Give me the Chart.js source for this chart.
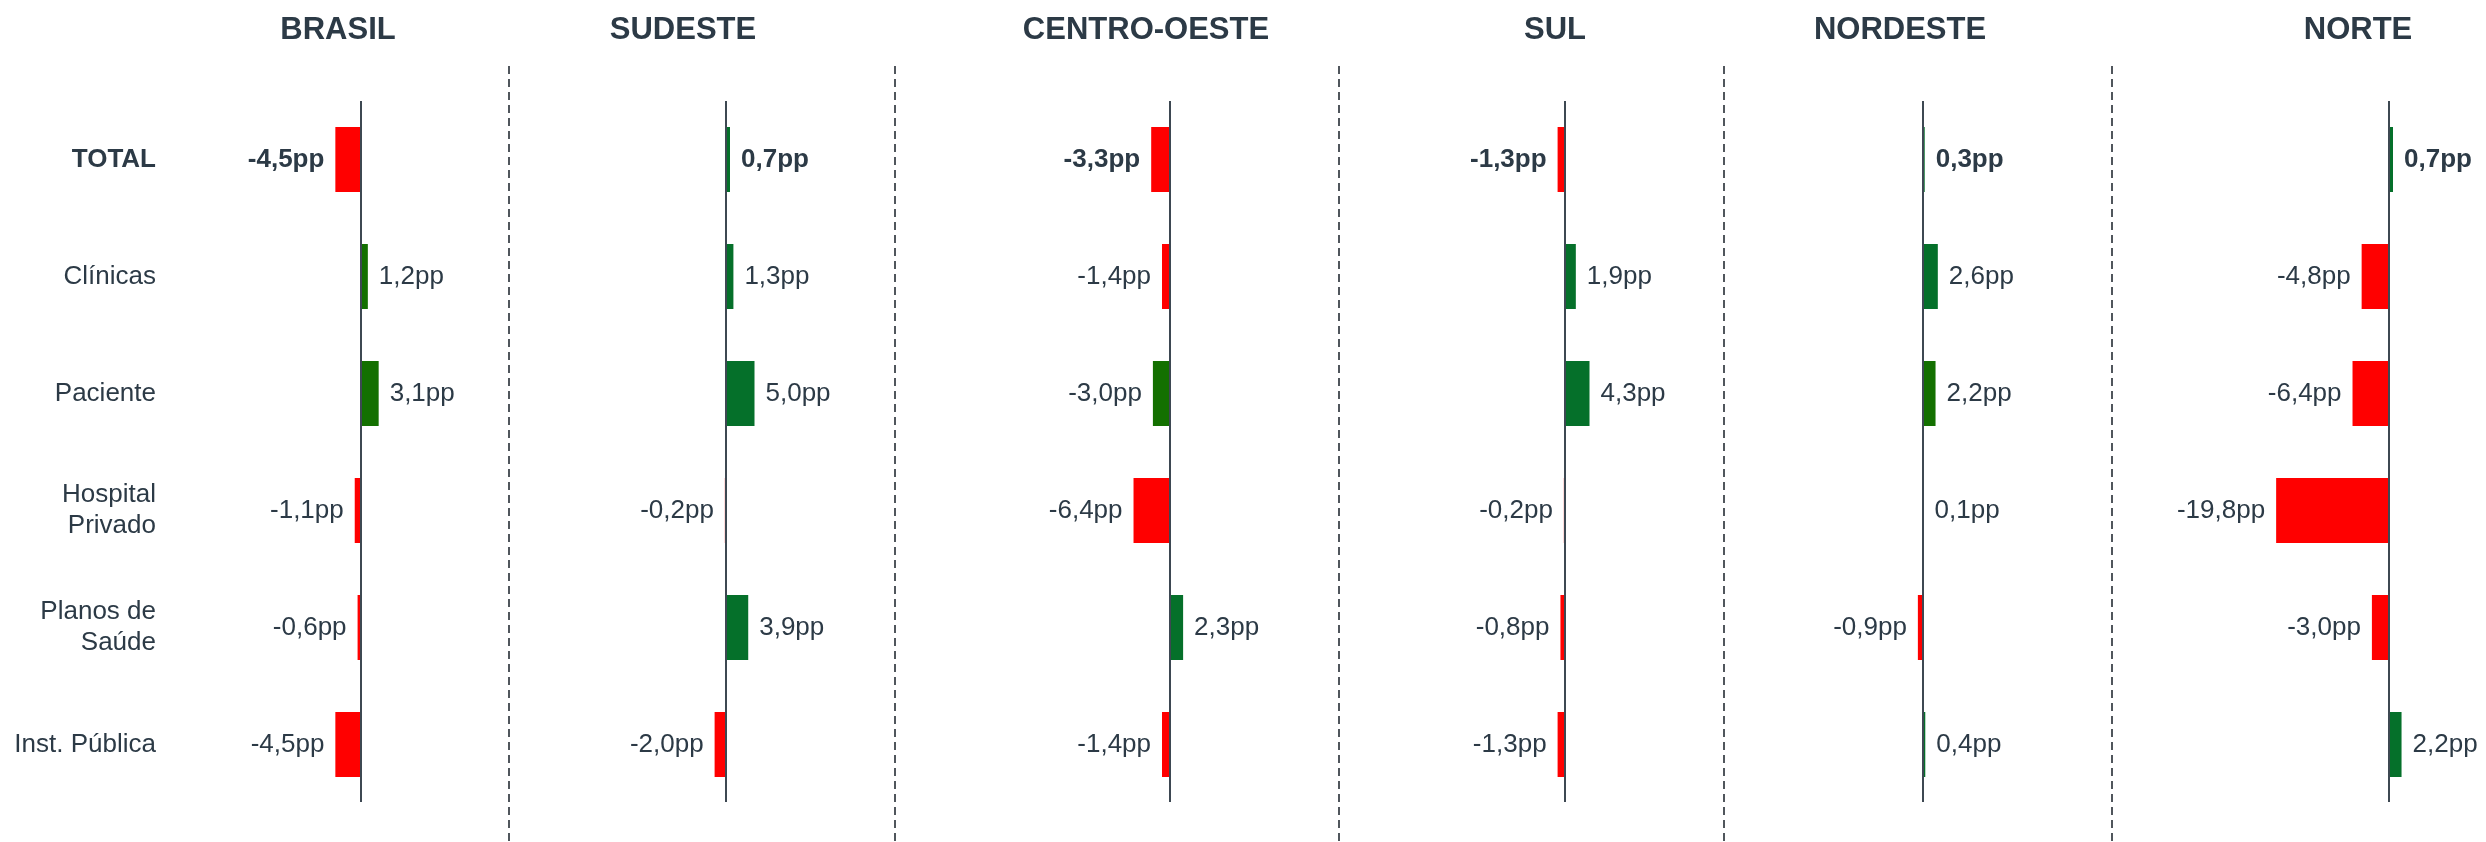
<!DOCTYPE html>
<html>
<head>
<meta charset="utf-8">
<script src="https://cdn.jsdelivr.net/npm/chart.js"></script>
<style>
  html, body { margin: 0; padding: 0; background: #fff; }
  #wrap { position: relative; width: 2486px; height: 842px; }
  .panel { position: absolute; top: 0; height: 842px; }
</style>
</head>
<body>
<div id="wrap"></div>
<script>
// categorias (linhas)
var categorias = ["TOTAL", "Clínicas", "Paciente", ["Hospital", "Privado"], ["Planos de", "Saúde"], "Inst. Pública"];

// regiões
var regioes = ["BRASIL", "SUDESTE", "CENTRO-OESTE", "SUL", "NORDESTE", "NORTE"];

// variação em pontos percentuais
var brasil      = [-4.5, 1.2, 3.1, -1.1, -0.6, -4.5];
var sudeste     = [0.7, 1.3, 5.0, -0.2, 3.9, -2.0];
var centroOeste = [-3.3, -1.4, -3.0, -6.4, 2.3, -1.4];
var sul         = [-1.3, 1.9, 4.3, -0.2, -0.8, -1.3];
var nordeste    = [0.3, 2.6, 2.2, 0.1, -0.9, 0.4];
var norte       = [0.7, -4.8, -6.4, -19.8, -3.0, 2.2];

var valores = [brasil, sudeste, centroOeste, sul, nordeste, norte];

// cores das barras: r = vermelho, g = verde, o = verde oliva
var coresBarras = [
  ["r", "o", "o", "r", "r", "r"],
  ["g", "g", "g", "r", "g", "r"],
  ["r", "r", "o", "r", "g", "r"],
  ["r", "g", "g", "r", "r", "r"],
  ["g", "g", "o", "g", "r", "g"],
  ["g", "r", "r", "r", "r", "g"]
];
var paleta = { r: "#ff0000", g: "#05702a", o: "#137000" };

var TEXTO = "#2c3a46";
var FONTE = "'Liberation Sans', Arial, sans-serif";
var PX_POR_PP = 5.7;

// posição de cada painel na página
var paineis = [
  { esq: 0,    dir: 510,  eixo: 361,  titulo: 338 },
  { esq: 510,  dir: 896,  eixo: 726,  titulo: 683 },
  { esq: 896,  dir: 1340, eixo: 1170, titulo: 1146 },
  { esq: 1340, dir: 1725, eixo: 1565, titulo: 1555 },
  { esq: 1725, dir: 2113, eixo: 1923, titulo: 1900 },
  { esq: 2113, dir: 2486, eixo: 2389, titulo: 2358 }
];
var LARG_ROTULOS = 170;

function fmt(v) {
  return v.toFixed(1).replace(".", ",") + "pp";
}

var extras = {
  id: "extras",
  afterDatasetsDraw: function (chart, args, opts) {
    var ctx = chart.ctx;
    var area = chart.chartArea;
    var x0 = chart.scales.x.getPixelForValue(0);
    ctx.save();

    // linha do zero
    ctx.strokeStyle = "#3d4852";
    ctx.lineWidth = 2;
    ctx.beginPath();
    ctx.moveTo(x0, area.top);
    ctx.lineTo(x0, area.bottom - 1);
    ctx.stroke();

    // rótulos de valor
    var dados = chart.data.datasets[0].data;
    chart.getDatasetMeta(0).data.forEach(function (bar, i) {
      var v = dados[i];
      ctx.font = (i === 0 ? "bold " : "") + "26px " + FONTE;
      ctx.fillStyle = TEXTO;
      ctx.textBaseline = "middle";
      if (v >= 0) {
        ctx.textAlign = "left";
        ctx.fillText(fmt(v), Math.max(bar.x, bar.base) + 11, bar.y);
      } else {
        ctx.textAlign = "right";
        ctx.fillText(fmt(v), Math.min(bar.x, bar.base) - 11, bar.y);
      }
    });

    // título da região
    ctx.font = "bold 31px " + FONTE;
    ctx.textAlign = "center";
    ctx.textBaseline = "alphabetic";
    ctx.fillText(opts.titulo, opts.tituloX, 39);

    // separador tracejado
    if (opts.separador) {
      var xs = chart.width - 1;
      ctx.strokeStyle = "#50565c";
      ctx.lineWidth = 2;
      ctx.setLineDash([8, 5]);
      ctx.beginPath();
      ctx.moveTo(xs, 66);
      ctx.lineTo(xs, 842);
      ctx.stroke();
    }
    ctx.restore();
  }
};

var wrap = document.getElementById("wrap");

paineis.forEach(function (p, k) {
  var div = document.createElement("div");
  div.className = "panel";
  div.style.left = p.esq + "px";
  div.style.width = (p.dir - p.esq) + "px";
  var canvas = document.createElement("canvas");
  div.appendChild(canvas);
  wrap.appendChild(div);

  var comRotulos = k === 0;
  var inicio = p.esq + (comRotulos ? LARG_ROTULOS : 0);

  var eixoY = {
    display: comRotulos,
    grid: { display: false, drawTicks: false },
    border: { display: false },
    ticks: {
      padding: 14,
      color: TEXTO,
      font: function (c) {
        return { family: FONTE, size: 26, weight: c.index === 0 ? "bold" : "normal", lineHeight: 1.2 };
      }
    }
  };
  if (comRotulos) {
    eixoY.afterFit = function (s) { s.width = LARG_ROTULOS; };
  }

  new Chart(canvas, {
    type: "bar",
    data: {
      labels: categorias,
      datasets: [{
        data: valores[k],
        backgroundColor: coresBarras[k].map(function (c) { return paleta[c]; }),
        borderWidth: 0,
        categoryPercentage: 1,
        barPercentage: 65 / 117
      }]
    },
    plugins: [extras],
    options: {
      indexAxis: "y",
      responsive: true,
      maintainAspectRatio: false,
      animation: false,
      layout: { padding: { top: 101, bottom: 39, left: 0, right: 0 } },
      plugins: {
        legend: { display: false },
        tooltip: { enabled: false },
        extras: {
          titulo: regioes[k],
          tituloX: p.titulo - p.esq,
          separador: k < paineis.length - 1
        }
      },
      scales: {
        x: {
          display: false,
          min: -(p.eixo - inicio) / PX_POR_PP,
          max: (p.dir - p.eixo) / PX_POR_PP
        },
        y: eixoY
      }
    }
  });
});
</script>
</body>
</html>
